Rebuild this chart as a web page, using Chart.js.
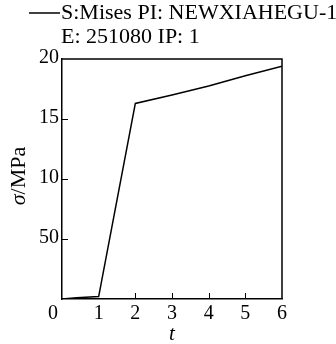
<!DOCTYPE html>
<html>
<head>
<meta charset="utf-8">
<script src="https://cdn.jsdelivr.net/npm/chart.js@4"></script>
<style>
  html, body { margin: 0; padding: 0; background: #fff; }
  canvas { display: block; }
</style>
</head>
<body>
<canvas id="myChart" width="336" height="344"></canvas>
<script>
// data
const tValues = [0, 0.4, 1, 2, 3, 4, 5, 6];
const stressValues = [0, 0.1, 0.2, 16.3, 17.0, 17.75, 18.6, 19.4];
const xTickValues = [0, 1, 2, 3, 4, 5, 6];
const xTickLabels = ['0', '1', '2', '3', '4', '5', '6'];
const yTickValues = [0, 5, 10, 15, 20];
const yTickLabels = ['', '50', '10', '15', '20'];
const legendLines = ['S:Mises PI: NEWXIAHEGU-1', 'E: 251080 IP: 1'];
const xTitle = 't';
const yTitleSymbol = 'σ';
const yTitleUnit = '/MPa';

const serif = '"Liberation Serif", "DejaVu Serif", serif';

// inward ticks, box, legend and axis titles
const decor = {
    id: 'decor',
    afterDraw(chart) {
        const ctx = chart.ctx;
        const area = chart.chartArea;
        const xs = chart.scales.x;
        const ys = chart.scales.y;
        ctx.save();
        ctx.strokeStyle = '#000';
        ctx.lineWidth = 1.5;
        // top and right side of the box
        ctx.beginPath();
        ctx.moveTo(area.left, area.top);
        ctx.lineTo(area.right, area.top);
        ctx.lineTo(area.right, area.bottom);
        ctx.stroke();
        // ticks pointing inward
        ctx.lineWidth = 1;
        ctx.beginPath();
        xTickValues.forEach(v => {
            if (v <= 1 || v >= 6) return;
            const px = Math.round(xs.getPixelForValue(v)) + 0.5;
            ctx.moveTo(px, area.bottom);
            ctx.lineTo(px, area.bottom - 6);
        });
        yTickValues.forEach(v => {
            if (v <= 0 || v >= 20) return;
            const py = Math.round(ys.getPixelForValue(v)) + 0.5;
            ctx.moveTo(area.left, py);
            ctx.lineTo(area.left + 6, py);
        });
        ctx.stroke();

        // tick labels
        ctx.fillStyle = '#000';
        ctx.font = '20px ' + serif;
        ctx.textAlign = 'center';
        ctx.textBaseline = 'middle';
        xTickValues.forEach((v, i) => {
            let px = xs.getPixelForValue(v);
            if (v === 0) px -= 9;
            ctx.fillText(xTickLabels[i], px, area.bottom + 15);
        });
        ctx.textAlign = 'right';
        yTickValues.forEach((v, i) => {
            const py = ys.getPixelForValue(v);
            ctx.fillText(yTickLabels[i], area.left - 3, py - 1);
        });

        // legend
        ctx.lineWidth = 1.5;
        ctx.beginPath();
        ctx.moveTo(29, 13);
        ctx.lineTo(60, 13);
        ctx.stroke();
        ctx.font = '22px ' + serif;
        ctx.textAlign = 'left';
        ctx.fillText(legendLines[0], 61, 13);
        ctx.fillText(legendLines[1], 61, 37);

        // x title
        ctx.font = 'italic 21px ' + serif;
        ctx.textAlign = 'center';
        ctx.fillText(xTitle, (area.left + area.right) / 2, 334);

        // y title, rotated
        ctx.translate(19, 176);
        ctx.rotate(-Math.PI / 2);
        ctx.font = 'italic 22px ' + serif;
        const w1 = ctx.measureText(yTitleSymbol).width;
        ctx.font = '22px ' + serif;
        const w2 = ctx.measureText(yTitleUnit).width;
        ctx.textAlign = 'left';
        ctx.font = 'italic 22px ' + serif;
        ctx.fillText(yTitleSymbol, -(w1 + w2) / 2, 0);
        ctx.font = '22px ' + serif;
        ctx.fillText(yTitleUnit, -(w1 + w2) / 2 + w1, 0);
        ctx.restore();
    }
};

const ctx = document.getElementById('myChart').getContext('2d');
const chart = new Chart(ctx, {
    type: 'line',
    data: {
        datasets: [{
            label: legendLines[0],
            data: tValues.map((t, i) => ({ x: t, y: stressValues[i] })),
            borderColor: '#000',
            borderWidth: 1.5,
            pointRadius: 0,
            tension: 0,
            fill: false
        }]
    },
    options: {
        responsive: false,
        animation: false,
        layout: { padding: { top: 59, right: 54, left: 0, bottom: 0 } },
        plugins: {
            legend: { display: false },
            tooltip: { enabled: false }
        },
        scales: {
            x: {
                type: 'linear',
                min: 0,
                max: 6,
                ticks: { display: false, stepSize: 1 },
                grid: { display: false },
                border: { display: true, color: '#000', width: 1.5 },
                afterFit(scale) { scale.height = 45; }
            },
            y: {
                min: 0,
                max: 20,
                ticks: { display: false, stepSize: 5 },
                grid: { display: false },
                border: { display: true, color: '#000', width: 1.5 },
                afterFit(scale) { scale.width = 62; }
            }
        }
    },
    plugins: [decor]
});
</script>
</body>
</html>
